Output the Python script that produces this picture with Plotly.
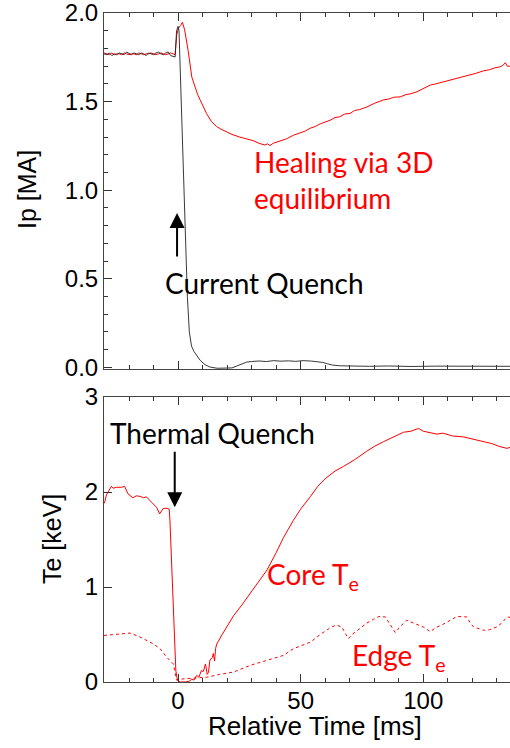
import plotly.graph_objects as go

# ---- Plasma current Ip [MA] vs relative time [ms] ----
# original discharge (black): current quench after the disruption
ip_black_t = [-30.2, -29, -28, -27, -26, -25, -24, -23, -22, -21, -20, -19, -18, -17, -16,
              -15, -14, -13, -12, -11, -10, -9, -8, -7, -6, -5, -4, -3, -2, -1.2, -0.6,
              0.0, 0.4, 1.5, 2.8, 3.8, 4.6, 5.5, 6.5, 7.6, 9, 11, 13, 16, 19, 22, 24, 26,
              28, 30, 33, 36, 39, 42, 45, 48, 51, 54, 57, 59, 61, 63, 66, 70, 78, 86, 95,
              105, 115, 125, 135.4]
ip_black = [1.77, 1.765, 1.775, 1.76, 1.77, 1.765, 1.775, 1.77, 1.765, 1.78, 1.77, 1.765,
            1.775, 1.77, 1.765, 1.775, 1.77, 1.76, 1.775, 1.77, 1.765, 1.775, 1.78, 1.77,
            1.765, 1.775, 1.78, 1.76, 1.755, 1.752, 1.90,
            1.925, 1.90, 1.42, 0.80, 0.40, 0.20, 0.12, 0.09, 0.065, 0.04, 0.015, 0.002,
            -0.005, -0.006, -0.003, 0.008, 0.02, 0.03, 0.033, 0.036, 0.033, 0.038, 0.035,
            0.037, 0.034, 0.038, 0.036, 0.033, 0.028, 0.02, 0.013, 0.009, 0.007, 0.006,
            0.008, 0.005, 0.007, 0.006, 0.007, 0.006]

# healed discharge (red): recovers via 3D equilibrium
ip_red_t = [-30.2, -29, -28, -27, -26, -25, -24, -23, -22, -21, -20, -19, -18, -17, -16,
            -15, -14, -13, -12, -11, -10, -9, -8, -7, -6, -5, -4, -3, -2, -1.2, -0.5,
            0.2, 1.0, 1.8, 2.7, 4.1, 5.6, 6.8, 8, 9, 10.3, 11.6, 13.5, 15.7, 17.5, 19.8,
            22, 25.2, 27.5, 30.6, 33, 35.4, 36.5, 37.5, 38.8, 41, 44.2, 47, 49.8, 52,
            53.9, 56, 58, 60, 62, 64, 66, 68, 70.2, 72, 74, 77, 80, 83.8, 86, 88, 90.6,
            93, 95, 97.5, 100, 102.9, 105, 108.3, 111, 113.5, 116.5, 119, 121.5, 124.6,
            127, 129, 131.4, 132.5, 133.5, 134.3, 135.4]
ip_red = [1.775, 1.77, 1.765, 1.775, 1.765, 1.77, 1.77, 1.765, 1.775, 1.77, 1.765, 1.77,
          1.77, 1.765, 1.775, 1.77, 1.765, 1.77, 1.77, 1.775, 1.77, 1.765, 1.77, 1.775,
          1.77, 1.765, 1.77, 1.775, 1.77, 1.765, 1.88,
          1.915, 1.93, 1.948, 1.905, 1.79, 1.64, 1.585, 1.54, 1.51, 1.47, 1.434, 1.39,
          1.36, 1.345, 1.33, 1.315, 1.30, 1.29, 1.28, 1.265, 1.255, 1.262, 1.252, 1.265,
          1.275, 1.29, 1.31, 1.325, 1.335, 1.35, 1.36, 1.375, 1.385, 1.395, 1.41, 1.415,
          1.43, 1.434, 1.45, 1.455, 1.47, 1.49, 1.51, 1.515, 1.525, 1.527, 1.54, 1.545,
          1.556, 1.575, 1.594, 1.60, 1.612, 1.62, 1.63, 1.64, 1.65, 1.66, 1.674, 1.68,
          1.69, 1.697, 1.705, 1.72, 1.70, 1.70]

# ---- Electron temperature Te [keV] ----
core_t = [-30.2, -29.9, -29.2, -27.2, -26.5, -25.1, -23.1, -21.8, -20.4, -18.4, -17, -15.6,
          -14, -12.9, -10.9, -8.8, -7.5, -6.1, -5, -4.1, -3.6, -3.3, -2.5, -2.0, -1.3,
          -0.9, -0.4, 0.0, 1, 3, 4.8, 5.5, 6.5, 7.6, 8.5, 9.5, 10.3, 11.2, 11.9, 12.4,
          13, 14, 14.4, 14.9, 15.3, 15.8, 18, 20, 22.7, 26, 29.6, 33, 36.3, 40, 43, 47,
          50, 53.9, 57, 60, 64, 67.5, 72, 77, 80, 83.8, 88, 92, 95, 98.1, 100, 102,
          105.6, 108, 112, 116.5, 120, 124.6, 128, 131, 134.2, 135.4]
core_te = [1.88, 1.895, 1.97, 2.06, 2.04, 2.05, 2.05, 2.06, 1.98, 1.94, 1.96, 1.955,
           1.94, 1.95, 1.895, 1.84, 1.77, 1.825, 1.83, 1.825, 1.82, 1.70, 1.20, 0.82,
           0.40, 0.12, 0.04, 0.01, 0.0, 0.0, 0.01, 0.03, 0.02, 0.07, 0.05, 0.12, 0.11,
           0.19, 0.08, 0.10, 0.23, 0.26, 0.30, 0.22, 0.35, 0.40, 0.50, 0.59, 0.70, 0.81,
           0.94, 1.06, 1.18, 1.36, 1.52, 1.70, 1.82, 1.95, 2.06, 2.14, 2.22, 2.27, 2.34,
           2.43, 2.48, 2.53, 2.58, 2.63, 2.64, 2.67, 2.64, 2.63, 2.61, 2.62, 2.59, 2.58,
           2.56, 2.53, 2.51, 2.48, 2.46, 2.47]

edge_t = [-30.2, -25, -19.6, -16, -12.8, -10, -7.3, -4.6, -1.9, -0.6, 0.8, 5, 11.7, 17,
          22.7, 29.4, 36.3, 43, 47, 54, 58, 62, 64.5, 66.8, 68.5, 69.5, 71, 74.3, 77,
          79.7, 82, 84.6, 86.5, 88.6, 90.5, 93.3, 97, 100, 102.9, 105, 108.3, 111,
          113.8, 117.8, 119, 120.5, 124.6, 127, 130, 132, 134.2, 135.4]
edge_te = [0.49, 0.50, 0.515, 0.48, 0.44, 0.40, 0.35, 0.26, 0.19, 0.02, 0.03, 0.035, 0.05,
           0.08, 0.105, 0.175, 0.23, 0.28, 0.35, 0.42, 0.50, 0.57, 0.60, 0.58, 0.50,
           0.457, 0.50, 0.57, 0.62, 0.66, 0.69, 0.685, 0.61, 0.52, 0.58, 0.65, 0.61,
           0.58, 0.53, 0.57, 0.61, 0.65, 0.69, 0.685, 0.63, 0.58, 0.545, 0.55, 0.58,
           0.62, 0.685, 0.68]

x_tickvals = [0, 50, 100]
x_ticktext = ["0", "50", "100"]
ip_tickvals = [0.0, 0.5, 1.0, 1.5, 2.0]
ip_ticktext = ["0.0", "0.5", "1.0", "1.5", "2.0"]
te_tickvals = [0, 1, 2, 3]

RED = "#ff0000"
AX_FONT = dict(family="Liberation Sans, Arial, sans-serif", size=24, color="black")
NOTE_FONT = "Lato, sans-serif"

fig = go.Figure()
fig.add_trace(go.Scatter(x=ip_red_t, y=ip_red, mode="lines",
                         line=dict(color=RED, width=1), xaxis="x", yaxis="y"))
fig.add_trace(go.Scatter(x=ip_black_t, y=ip_black, mode="lines",
                         line=dict(color="#222", width=0.9), xaxis="x", yaxis="y"))
fig.add_trace(go.Scatter(x=edge_t, y=edge_te, mode="lines",
                         line=dict(color=RED, width=1, dash="3px,3px"),
                         xaxis="x2", yaxis="y2"))
fig.add_trace(go.Scatter(x=core_t, y=core_te, mode="lines",
                         line=dict(color=RED, width=1), xaxis="x2", yaxis="y2"))

xcommon = dict(range=[-30.2, 135.4], showline=True, linecolor="#444", linewidth=1,
               mirror="allticks", ticks="inside", ticklen=8, tickcolor="#333",
               tickvals=x_tickvals, showgrid=False, zeroline=False,
               ticklabeloverflow="allow",
               minor=dict(dtick=10, tick0=0, ticks="inside", ticklen=4, tickcolor="#333",
                          showgrid=False))

fig.update_layout(
    width=510, height=748,
    margin=dict(l=104, r=0, t=13, b=66),
    paper_bgcolor="white", plot_bgcolor="white",
    showlegend=False,
    xaxis=dict(**xcommon, anchor="y", showticklabels=False),
    xaxis2=dict(**xcommon, anchor="y2", matches="x", showticklabels=True,
                ticktext=x_ticktext, tickfont=AX_FONT, ticklabelstandoff=-3),
    yaxis=dict(domain=[0.4679, 1.0], range=[-0.009, 2.0005], anchor="x",
               showline=True, linecolor="#444", linewidth=1, mirror=False,
               ticks="inside", ticklen=8, tickcolor="#333",
               tickvals=ip_tickvals, ticktext=ip_ticktext, tickfont=AX_FONT,
               ticklabeloverflow="allow",
               showgrid=False, zeroline=False,
               minor=dict(dtick=0.1, tick0=0, ticks="inside", ticklen=4,
                          tickcolor="#333", showgrid=False)),
    yaxis2=dict(domain=[0.0, 0.426], range=[0.0, 3.0005], anchor="x2",
                showline=True, linecolor="#444", linewidth=1, mirror=False,
                ticks="inside", ticklen=8, tickcolor="#333",
                tickvals=te_tickvals, tickfont=AX_FONT, ticklabeloverflow="allow",
                showgrid=False, zeroline=False),
)

notes = [
    dict(text="Healing via 3D", x=30.1, y=1.16, xref="x", yref="y", color=RED),
    dict(text="equilibrium", x=30.1, y=0.955, xref="x", yref="y", color=RED),
    dict(text="Current Quench", x=-6.2, y=0.479, xref="x", yref="y", color="black"),
    dict(text="Thermal Quench", x=-28.7, y=2.623, xref="x2", yref="y2", color="black"),
    dict(text="Core T<sub>e</sub>", x=35.4, y=1.12, xref="x2", yref="y2", color=RED),
    dict(text="Edge T<sub>e</sub>", x=70.1, y=0.26, xref="x2", yref="y2", color=RED),
]
for n in notes:
    fig.add_annotation(text=n["text"], x=n["x"], y=n["y"], xref=n["xref"], yref=n["yref"],
                       xanchor="left", yanchor="middle", showarrow=False,
                       font=dict(family=NOTE_FONT, size=28, color=n["color"]))

# current quench arrow (points up) and thermal quench arrow (points down)
fig.add_annotation(text="", x=-0.4, y=0.871, ax=-0.4, ay=0.617, xref="x", yref="y",
                   axref="x", ayref="y", showarrow=True, arrowhead=2, arrowsize=1.5,
                   arrowwidth=2, arrowcolor="black")
fig.add_annotation(text="", x=-1.35, y=1.839, ax=-1.35, ay=2.44, xref="x2", yref="y2",
                   axref="x2", ayref="y2", showarrow=True, arrowhead=2, arrowsize=1.5,
                   arrowwidth=2, arrowcolor="black")

# axis titles
TITLE_FONT = dict(family="Liberation Sans, Arial, sans-serif", size=25, color="black")
fig.add_annotation(text="Ip [MA]", x=(27 - 104) / 406, y=(682 - 190) / 669,
                   xref="paper", yref="paper", textangle=-90, showarrow=False,
                   xanchor="center", yanchor="middle", font=TITLE_FONT)
fig.add_annotation(text="Te [keV]", x=(52 - 104) / 406, y=(682 - 539) / 669,
                   xref="paper", yref="paper", textangle=-90, showarrow=False,
                   xanchor="center", yanchor="middle", font=TITLE_FONT)
fig.add_annotation(text="Relative Time [ms]", x=(315 - 104) / 406, y=(682 - 726) / 669,
                   xref="paper", yref="paper", showarrow=False,
                   xanchor="center", yanchor="middle",
                   font=dict(family="Liberation Sans, Arial, sans-serif", size=26,
                             color="black"))

fig.write_html("out.html")
